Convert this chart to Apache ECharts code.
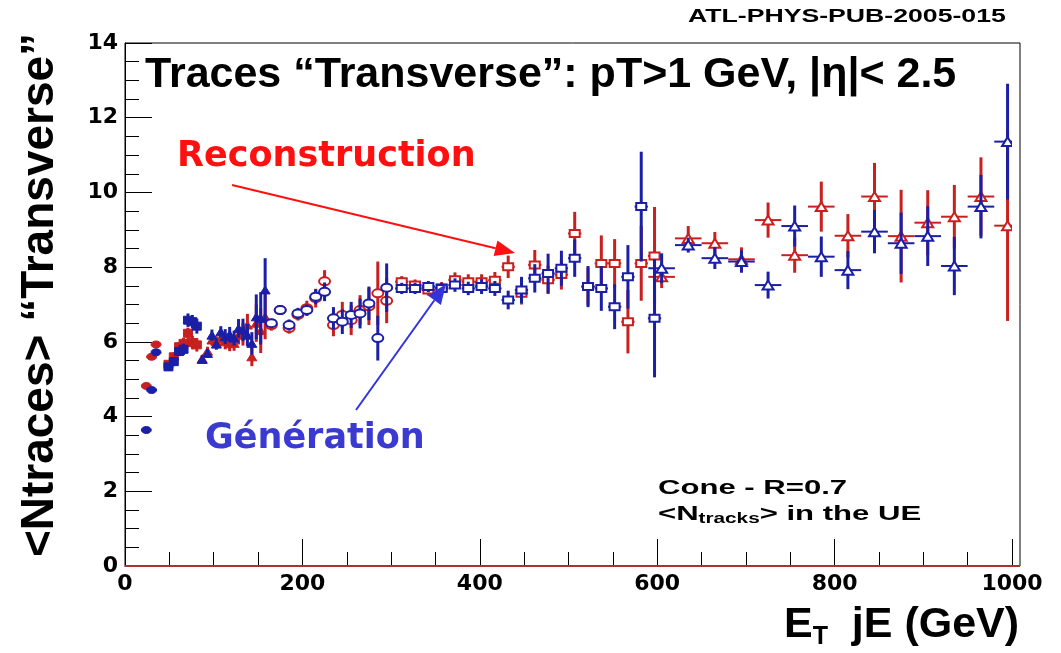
<!DOCTYPE html>
<html>
<head>
<meta charset="utf-8">
<script src="https://cdn.jsdelivr.net/npm/echarts@6/dist/echarts.min.js"></script>
<style>
  html, body { margin: 0; padding: 0; background: #ffffff; }
  #chart { width: 1061px; height: 653px; }
</style>
</head>
<body>
<div id="chart"></div>
<script>
// ---- Mean number of tracks in the "Transverse" region vs E_T of the leading jet ----
// Each sample: bin centres (GeV), half bin width, reconstruction / generation values and errors.

// sample 1 : filled circles
const xCirc = [24, 30, 35];
const exCirc = 2.5;
const recoCirc = [4.82, 5.60, 5.93];
const recoCircErr = [0.05, 0.05, 0.05];
const genCirc = [3.64, 4.71, 5.72];
const genCircErr = [0.05, 0.05, 0.05];

// sample 2 : filled squares
const xSq = [49, 55, 61, 66, 71, 76, 81];
const exSq = 2.5;
const recoSq = [5.40, 5.60, 5.87, 5.96, 6.23, 5.98, 5.92];
const recoSqErr = [0.10, 0.12, 0.12, 0.15, 0.15, 0.18, 0.18];
const genSq = [5.33, 5.47, 5.74, 5.80, 6.58, 6.54, 6.42];
const genSqErr = [0.10, 0.12, 0.12, 0.15, 0.18, 0.18, 0.20];

// sample 3 : filled triangles
const xTri = [87, 93, 98, 103, 108, 113, 118, 123, 128, 133, 138, 143, 148, 153, 158];
const exTri = 2.5;
const recoTri = [5.55, 5.75, 6.05, 6.00, 6.10, 6.00, 5.95, 5.96, 6.18, 6.20, 6.45, 5.60, 6.50, 6.30, 6.67];
const recoTriErr = [0.10, 0.12, 0.15, 0.15, 0.15, 0.20, 0.20, 0.20, 0.25, 0.30, 0.30, 0.25, 0.50, 0.60, 0.60];
const genTri = [5.53, 5.69, 6.18, 5.94, 6.27, 6.14, 6.20, 6.10, 6.36, 6.32, 6.18, 5.96, 6.67, 6.63, 7.39];
const genTriErr = [0.10, 0.12, 0.15, 0.15, 0.15, 0.20, 0.20, 0.20, 0.25, 0.30, 0.30, 0.30, 0.60, 0.70, 0.85];

// sample 4 : open circles
const xHex = [165, 175, 185, 195, 205, 215, 225, 235, 245, 255, 265, 275, 285, 295];
const exHex = 5;
const recoHex = [6.45, 6.85, 6.37, 6.72, 6.90, 7.17, 7.62, 6.45, 6.72, 6.58, 6.85, 6.95, 7.30, 7.10];
const recoHexErr = [0.15, 0.10, 0.15, 0.15, 0.20, 0.25, 0.30, 0.30, 0.35, 0.40, 0.40, 0.50, 0.85, 0.60];
const genHex = [6.50, 6.85, 6.45, 6.76, 6.85, 7.21, 7.34, 6.63, 6.54, 6.72, 6.76, 7.03, 6.10, 7.45];
const genHexErr = [0.12, 0.10, 0.15, 0.15, 0.15, 0.20, 0.25, 0.30, 0.33, 0.35, 0.40, 0.45, 0.60, 0.65];

// sample 5 : open squares
const xBox = [312, 327, 342, 357, 372, 387, 402, 417, 432, 447, 462, 477, 492, 507, 522, 537, 552, 567, 582, 597];
const exBox = 7.5;
const recoBox = [7.61, 7.52, 7.39, 7.45, 7.66, 7.61, 7.61, 7.65, 8.01, 7.30, 8.06, 7.66, 7.80, 8.90, 7.48, 8.10, 8.10, 6.54, 8.10, 8.30];
const recoBoxErr = [0.15, 0.15, 0.15, 0.15, 0.20, 0.20, 0.20, 0.22, 0.30, 0.30, 0.40, 0.38, 0.40, 0.58, 0.50, 0.75, 0.65, 0.85, 1.00, 1.31];
const genBox = [7.43, 7.43, 7.48, 7.43, 7.52, 7.43, 7.48, 7.43, 7.12, 7.39, 7.70, 7.83, 7.97, 8.24, 7.48, 7.43, 6.94, 7.74, 9.62, 6.63];
const genBoxErr = [0.15, 0.15, 0.15, 0.15, 0.18, 0.18, 0.20, 0.20, 0.25, 0.35, 0.38, 0.53, 0.47, 0.50, 0.55, 0.60, 0.60, 0.85, 1.47, 1.58];

// sample 6 : open triangles
const xOpenTri = [605, 635, 665, 695, 725, 755, 785, 815, 845, 875, 905, 935, 965, 995];
const exOpenTri = 15;
const recoOpenTri = [7.74, 8.77, 8.64, 8.21, 9.26, 8.32, 9.62, 8.84, 9.89, 8.83, 9.19, 9.35, 9.89, 9.11];
const recoOpenTriErr = [0.30, 0.33, 0.30, 0.32, 0.47, 0.47, 0.67, 0.58, 0.90, 1.24, 0.87, 0.85, 1.05, 2.55];
const genOpenTri = [7.97, 8.59, 8.24, 8.15, 7.52, 9.10, 8.28, 7.92, 8.95, 8.64, 8.83, 8.03, 9.62, 11.36];
const genOpenTriErr = [0.40, 0.20, 0.29, 0.30, 0.36, 0.55, 0.54, 0.51, 0.58, 0.82, 0.80, 0.78, 0.85, 1.55];

// axis ticks
const xTicks = [0, 200, 400, 600, 800, 1000];
const yTicks = [0, 2, 4, 6, 8, 10, 12, 14];

const RECO = '#c8201f';
const GEN = '#1a1fa6';

function pack(xs, ex, ys, eys) {
  return xs.map((x, i) => [x, ys[i], ex, eys[i]]);
}

// error bars + marker for one point
function makeRender(color, shape, filled, w, h) {
  return function (params, api) {
    const x = api.value(0), y = api.value(1), ex = api.value(2), ey = api.value(3);
    const c = api.coord([x, y]);
    const t = api.coord([x, y + ey]);
    const b = api.coord([x, y - ey]);
    const l = api.coord([x - ex, y]);
    const r = api.coord([x + ex, y]);
    const children = [
      { type: 'line', shape: { x1: c[0], y1: t[1], x2: c[0], y2: b[1] }, style: { stroke: color, lineWidth: 3 } },
      { type: 'line', shape: { x1: l[0], y1: c[1], x2: r[0], y2: c[1] }, style: { stroke: color, lineWidth: 2 } }
    ];
    const style = filled
      ? { fill: color, stroke: color, lineWidth: 1 }
      : { fill: '#ffffff', stroke: color, lineWidth: 2 };
    if (shape === 'circle') {
      children.push({ type: 'ellipse', shape: { cx: c[0], cy: c[1], rx: w / 2, ry: h / 2 }, style });
    } else if (shape === 'rect') {
      children.push({ type: 'rect', shape: { x: c[0] - w / 2, y: c[1] - h / 2, width: w, height: h }, style });
    } else {
      children.push({ type: 'polygon', shape: { points: [[c[0], c[1] - h / 2], [c[0] - w / 2, c[1] + h / 2], [c[0] + w / 2, c[1] + h / 2]] }, style });
    }
    return { type: 'group', children };
  };
}

function errSeries(name, color, data, shape, filled, w, h) {
  return {
    type: 'custom', name, data,
    renderItem: makeRender(color, shape, filled, w, h),
    encode: { x: 0, y: 1 },
    clip: true
  };
}

const groups = [
  { x: xCirc, ex: exCirc, r: recoCirc, re: recoCircErr, g: genCirc, ge: genCircErr, shape: 'circle', filled: true, w: 10, h: 7 },
  { x: xSq, ex: exSq, r: recoSq, re: recoSqErr, g: genSq, ge: genSqErr, shape: 'rect', filled: true, w: 9, h: 8 },
  { x: xTri, ex: exTri, r: recoTri, re: recoTriErr, g: genTri, ge: genTriErr, shape: 'tri', filled: true, w: 10, h: 8 },
  { x: xHex, ex: exHex, r: recoHex, re: recoHexErr, g: genHex, ge: genHexErr, shape: 'circle', filled: false, w: 11, h: 8 },
  { x: xBox, ex: exBox, r: recoBox, re: recoBoxErr, g: genBox, ge: genBoxErr, shape: 'rect', filled: false, w: 10, h: 7 },
  { x: xOpenTri, ex: exOpenTri, r: recoOpenTri, re: recoOpenTriErr, g: genOpenTri, ge: genOpenTriErr, shape: 'tri', filled: false, w: 11, h: 9 }
];

const series = [];
groups.forEach((gr, i) => series.push(errSeries('Reconstruction ' + i, RECO, pack(gr.x, gr.ex, gr.r, gr.re), gr.shape, gr.filled, gr.w, gr.h)));
groups.forEach((gr, i) => series.push(errSeries('Génération ' + i, GEN, pack(gr.x, gr.ex, gr.g, gr.ge), gr.shape, gr.filled, gr.w, gr.h)));

// arrow made of a line and a filled head
function arrow(x1, y1, x2, y2, color, len, half) {
  const dx = x2 - x1, dy = y2 - y1, d = Math.hypot(dx, dy);
  const ux = dx / d, uy = dy / d;
  const bx = x2 - ux * len, by = y2 - uy * len;
  return [
    { type: 'line', shape: { x1, y1, x2: bx, y2: by }, style: { stroke: color, lineWidth: 2 }, z: 10 },
    { type: 'polygon', shape: { points: [[x2, y2], [bx - uy * half, by + ux * half], [bx + uy * half, by - ux * half]] }, style: { fill: color }, z: 10 }
  ];
}

const LEFT = 125, TOP = 43, BOTTOM = 566, X1000 = 1012, FRAME_R = 1020;

const axisLabelStyle = { color: '#000', fontFamily: 'DejaVu Sans', fontWeight: 'bold', fontSize: 22 };

const option = {
  backgroundColor: '#ffffff',
  animation: false,
  grid: { left: LEFT, right: 1061 - X1000, top: TOP, bottom: 653 - BOTTOM, containLabel: false },
  xAxis: {
    type: 'value', min: xTicks[0], max: xTicks[xTicks.length - 1], interval: 200,
    axisLine: { show: true, onZero: false, lineStyle: { color: '#000', width: 1 } },
    axisTick: { show: true, inside: true, length: 27, lineStyle: { color: '#000', width: 1 } },
    minorTick: { show: true, splitNumber: 4, length: 14, lineStyle: { color: '#000', width: 1 } },
    splitLine: { show: false },
    axisLabel: Object.assign({ margin: 7, formatter: v => String(v) }, axisLabelStyle)
  },
  yAxis: {
    type: 'value', min: yTicks[0], max: yTicks[yTicks.length - 1], interval: 2,
    axisLine: { show: true, onZero: false, lineStyle: { color: '#000', width: 1 } },
    axisTick: { show: true, inside: true, length: 27, lineStyle: { color: '#000', width: 1 } },
    minorTick: { show: true, splitNumber: 4, length: 14, lineStyle: { color: '#000', width: 1 } },
    splitLine: { show: false },
    axisLabel: Object.assign({ margin: 7, formatter: v => String(v) }, axisLabelStyle)
  },
  series,
  graphic: [
    // frame
    { type: 'rect', shape: { x: LEFT, y: TOP, width: FRAME_R - LEFT, height: BOTTOM - TOP }, style: { fill: 'none', stroke: '#000', lineWidth: 1 }, z: 1, silent: true },
    { type: 'line', shape: { x1: LEFT, y1: BOTTOM, x2: FRAME_R, y2: BOTTOM }, style: { stroke: '#b03030', lineWidth: 2 }, z: 2 },
    // note number
    { type: 'text', x: 688, y: 8, scaleX: 1.48, style: { text: 'ATL-PHYS-PUB-2005-015', fill: '#000', font: 'bold 18px "Liberation Sans"' } },
    // plot title
    { type: 'text', left: 145, top: 54, style: { text: 'Traces \u201CTransverse\u201D: pT>1 GeV, |\u03B7|< 2.5', fill: '#000', font: 'bold 43px "Liberation Sans"' }, z: 20 },
    // y axis title
    { type: 'text', x: 17, y: 295, rotation: Math.PI / 2, style: { text: '<Ntraces> \u201CTransverse\u201D', fill: '#000', font: 'bold 46px "Liberation Sans"', align: 'center', verticalAlign: 'top' } },
    // x axis title
    { type: 'text', left: 784, top: 604, style: {
        text: '{b|E}{s|T}{b|  jE (GeV)}',
        rich: {
          b: { font: 'bold 43px "Liberation Sans"', fill: '#000' },
          s: { font: 'bold 25px "Liberation Sans"', fill: '#000', padding: [24, 0, 0, 0] }
        } } },
    // annotation labels
    { type: 'text', left: 177, top: 139, style: { text: 'Reconstruction', fill: '#ff1010', font: 'bold 35px "DejaVu Sans"' }, z: 20 },
    { type: 'text', left: 205, top: 421, style: { text: 'G\u00E9n\u00E9ration', fill: '#3a3ad0', font: 'bold 35px "DejaVu Sans"' }, z: 20 },
    ...arrow(232, 185, 515, 253, '#ff1010', 20, 8),
    ...arrow(356, 410, 446, 284, '#3333dd', 20, 8),
    // legend text
    { type: 'text', x: 658, y: 478, scaleX: 1.48, style: { text: 'Cone - R=0.7', fill: '#000', font: 'bold 21px "Liberation Sans"' } },
    { type: 'text', x: 658, y: 503, scaleX: 1.48, style: {
        text: '{a|<N}{s|tracks}{a|> in the UE}',
        rich: {
          a: { font: 'bold 21px "Liberation Sans"', fill: '#000' },
          s: { font: 'bold 14px "Liberation Sans"', fill: '#000', padding: [9, 0, 0, 0] }
        } } }
  ]
};

const chart = echarts.init(document.getElementById('chart'));
chart.setOption(option);
</script>
</body>
</html>
